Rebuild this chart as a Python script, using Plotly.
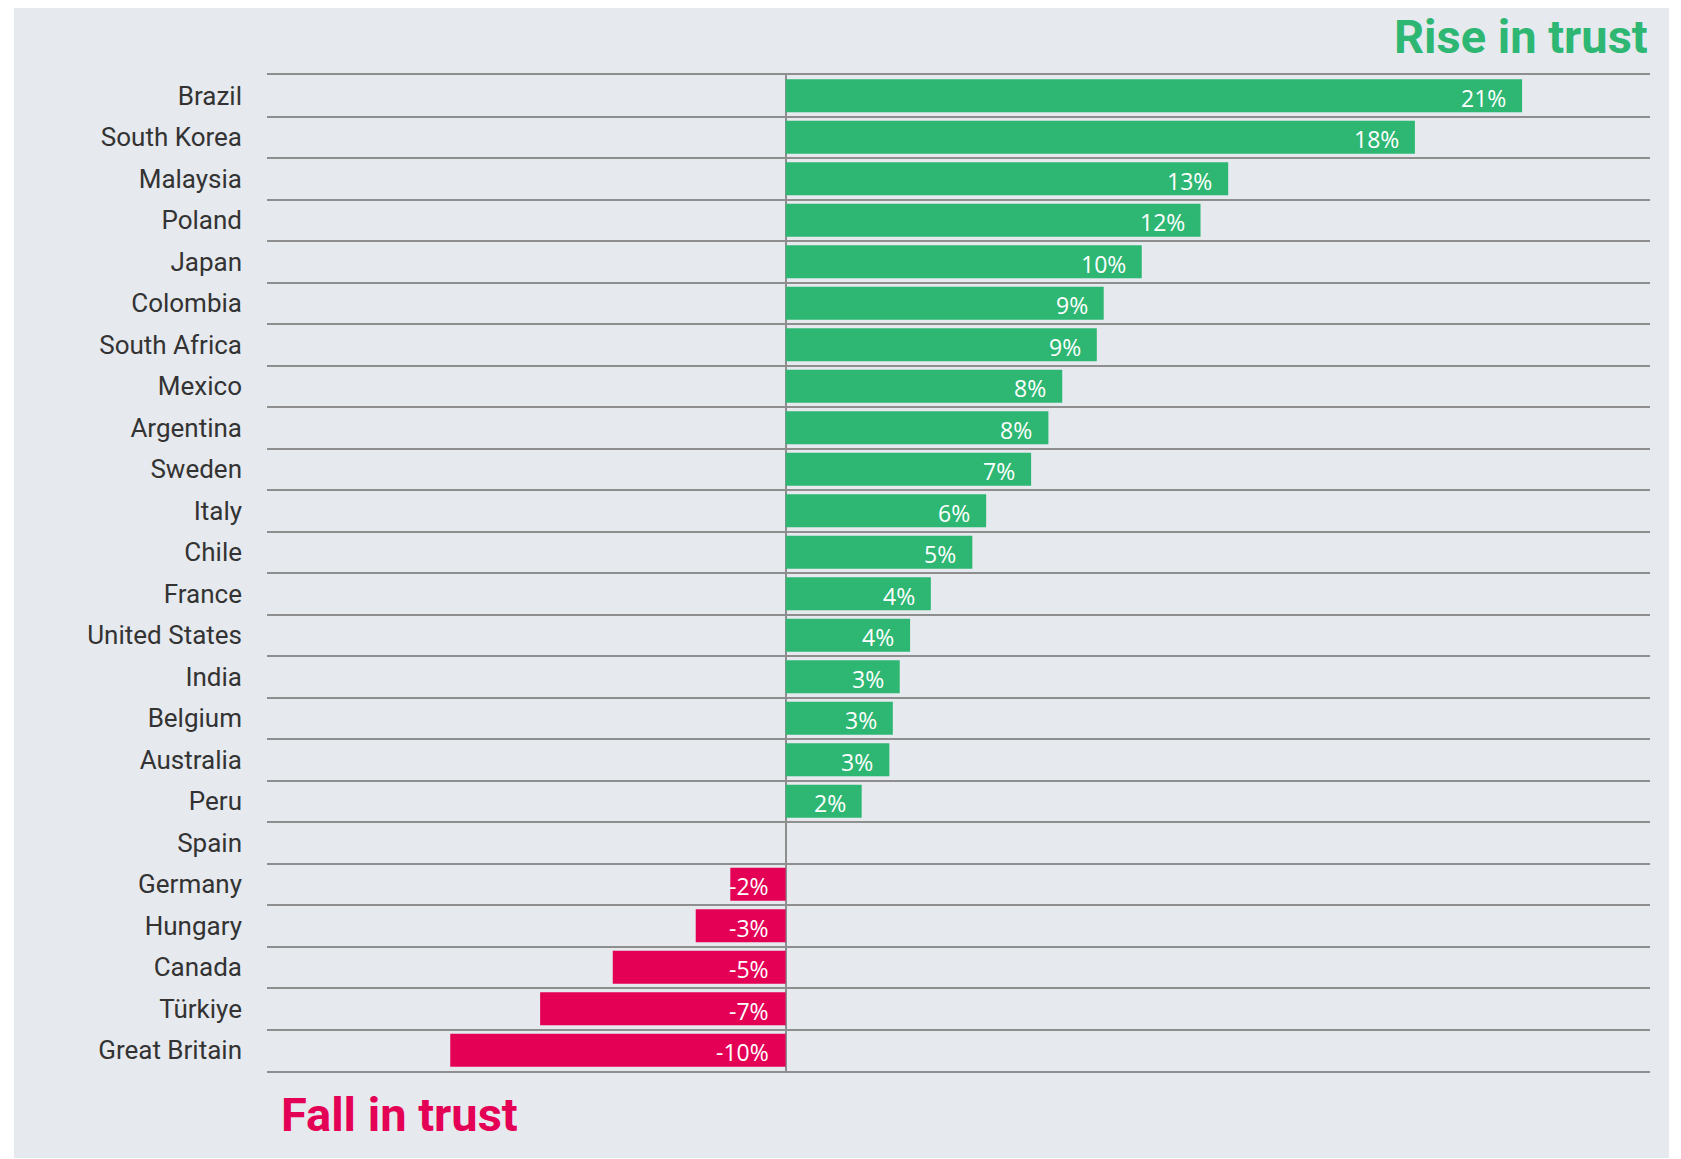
import plotly.graph_objects as go

countries = ["Brazil", "South Korea", "Malaysia", "Poland", "Japan", "Colombia",
             "South Africa", "Mexico", "Argentina", "Sweden", "Italy", "Chile",
             "France", "United States", "India", "Belgium", "Australia", "Peru",
             "Spain", "Germany", "Hungary", "Canada", "Türkiye", "Great Britain"]
change = [21.3, 18.2, 12.8, 12.0, 10.3, 9.2, 9.0, 8.0, 7.6, 7.1, 5.8, 5.4,
          4.2, 3.6, 3.3, 3.1, 3.0, 2.2, 0.0, -1.6, -2.6, -5.0, -7.1, -9.7]

GREEN = "#2EB773"
PINK = "#E40055"
BG = "#E6E9EE"
GRID = "#8E8E8E"

colors = [GREEN if v > 0 else PINK for v in change]

fig = go.Figure()
fig.add_trace(go.Bar(
    x=change, y=countries, orientation="h",
    marker=dict(color=colors, line=dict(width=0)),
    hoverinfo="x+y", showlegend=False,
))

annotations = []
for c, v in zip(countries, change):
    if v == 0:
        continue
    annotations.append(dict(
        x=v if v > 0 else 0, y=c, xref="x", yref="y",
        text=f"{v:.0f}%", showarrow=False,
        xanchor="right", yanchor="middle", xshift=-14 if v > 0 else -15, yshift=-2,
        font=dict(family="Open Sans", size=23, color="white"),
    ))

annotations.append(dict(
    x=1, y=1.039, xref="paper", yref="paper", text="<b>Rise in trust</b>",
    showarrow=False, xanchor="right", yanchor="middle",
    font=dict(family="Roboto", size=47, color=GREEN),
))
annotations.append(dict(
    x=0.009, y=-0.044, xref="paper", yref="paper", text="<b>Fall in trust</b>",
    showarrow=False, xanchor="left", yanchor="middle",
    font=dict(family="Roboto", size=47, color=PINK),
))

fig.update_layout(
    width=1665, height=1151,
    margin=dict(l=259, r=23, t=67, b=88),
    paper_bgcolor="white", plot_bgcolor=BG,
    bargap=0.2,
    annotations=annotations,
    shapes=[dict(type="rect", xref="paper", yref="paper",
                 x0=-0.183, x1=1.0137, y0=-0.0873, y1=1.0713,
                 fillcolor=BG, line=dict(width=0), layer="below")],
    xaxis=dict(range=[-15, 25], showgrid=False, showticklabels=False,
               zeroline=True, zerolinecolor=GRID, zerolinewidth=2,
               showline=True, mirror=True, linecolor=GRID, linewidth=2,
               ticks=""),
    yaxis=dict(autorange="reversed", tickson="boundaries", showgrid=True,
               gridcolor=GRID, gridwidth=2, ticks="", ticklabelstandoff=24,
               tickfont=dict(family="Roboto", size=26, color="#333333"),
               showline=False, zeroline=False),
    font=dict(family="Roboto"),
)

fig.write_html("out.html")
